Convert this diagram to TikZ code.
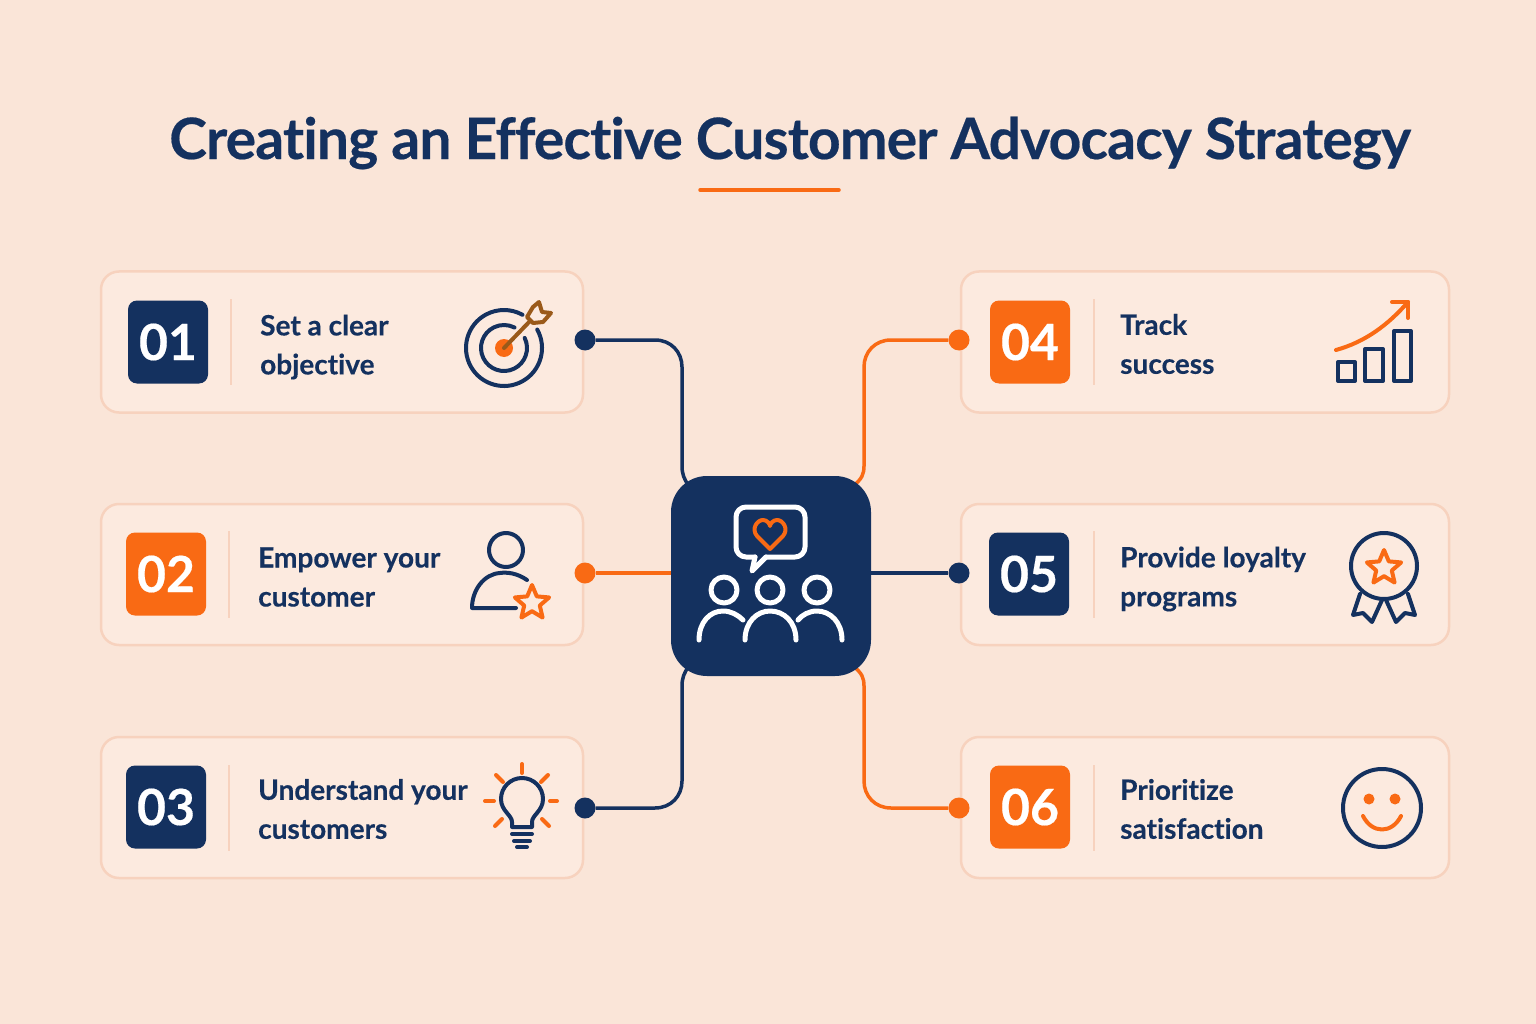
\documentclass[tikz,border=0pt]{standalone}
\usepackage{fontspec}
\setmainfont{Lato}[Ligatures=NoCommon,BoldFeatures={FakeBold=0.35}]
\usetikzlibrary{positioning,backgrounds,shapes.geometric}

\definecolor{navy}{HTML}{14315F}
\definecolor{brand}{HTML}{F96A14}
\definecolor{paper}{HTML}{FAE5D8}
\definecolor{cardfill}{HTML}{FCEADF}
\definecolor{cardline}{HTML}{F7D2BE}
\definecolor{shaft}{HTML}{9A5A1A}

\begin{document}
\begin{tikzpicture}[
    x=1pt,y=-1pt,
    card/.style={rectangle,rounded corners=18pt,draw=cardline,line width=2.5pt,fill=cardfill,minimum height=141pt,inner sep=0pt},
    badge/.style={rectangle,rounded corners=9pt,minimum width=80pt,minimum height=83pt,inner sep=0pt,text=white,font=\fontsize{50}{50}\selectfont\bfseries},
    navybadge/.style={badge,fill=navy},
    orangebadge/.style={badge,fill=brand},
    label/.style={anchor=west,align=left,text=navy,inner sep=0pt,font=\fontsize{28}{39}\selectfont\bfseries},
    rule/.style={cardline,line width=2.5pt},
    dot/.style={circle,minimum size=21pt,inner sep=0pt},
    navylink/.style={navy,line width=3.5pt},
    orangelink/.style={brand,line width=3.5pt},
    navyicon/.style={navy,line width=4pt,line cap=round,line join=round},
    orangeicon/.style={brand,line width=4pt,line cap=round,line join=round},
    whiteicon/.style={white,line width=5pt,line cap=round,line join=round},
    iconstar/.style={star,star points=5,star point ratio=2.2,draw=brand,line width=4pt,line join=round,inner sep=0pt}
]

\useasboundingbox (0,0) rectangle (1536,1024);

% Title
\node[text=navy,inner sep=0pt,font=\fontsize{57}{57}\selectfont\bfseries\addfontfeature{LetterSpace=-1.5}] (title) at (790,143) {Creating an Effective Customer Advocacy Strategy};
\draw[brand,line width=3.5pt,line cap=round] (700,190) -- (839,190);

% Center
\node[rectangle,rounded corners=36pt,fill=navy,minimum width=200pt,minimum height=200pt,inner sep=0pt] (hub) at (771,576) {};

% Cards
\begin{scope}[on background layer]
\fill[paper] (0,0) rectangle (1536,1024);
\node[card,minimum width=482pt] (card1) at (342,342) {};
\node[card,minimum width=482pt] (card2) at (342,574.5) {};
\node[card,minimum width=482pt] (card3) at (342,807.5) {};
\node[card,minimum width=488pt] (card4) at (1205,342) {};
\node[card,minimum width=488pt] (card5) at (1205,574.5) {};
\node[card,minimum width=488pt] (card6) at (1205,807.5) {};
\end{scope}

% Badges
\node[navybadge] (num1) at (168,342) {01};
\node[orangebadge] (num2) at (166,574) {02};
\node[navybadge] (num3) at (166,807) {03};
\node[orangebadge] (num4) at (1030,342) {04};
\node[navybadge] (num5) at (1029,574) {05};
\node[orangebadge] (num6) at (1030,807) {06};

% Dividers
\draw[rule] (231,299) -- (231,385);
\draw[rule] (229,531) -- (229,618);
\draw[rule] (229,765) -- (229,851);
\draw[rule] (1094,299) -- (1094,385);
\draw[rule] (1094,531) -- (1094,618);
\draw[rule] (1094,765) -- (1094,851);

% Labels
\node[label] (text1) at (260,347) {Set a clear\\objective};
\node[label] (text2) at (258,577) {Empower your\\customer};
\node[label] (text3) at (258,809) {Understand your\\customers};
\node[label] (text4) at (1120,344) {Track\\success};
\node[label] (text5) at (1120,579) {Provide loyalty\\programs};
\node[label] (text6) at (1120,809) {Prioritize\\satisfaction};

% Dots
\node[dot,fill=navy] (dot1) at (585,340) {};
\node[dot,fill=brand] (dot2) at (585,573) {};
\node[dot,fill=navy] (dot3) at (585,808) {};
\node[dot,fill=brand] (dot4) at (959,340) {};
\node[dot,fill=navy] (dot5) at (959,573) {};
\node[dot,fill=brand] (dot6) at (959,808) {};

% Connectors
\begin{scope}[on background layer]
\draw[navylink] (dot1) -- (655,340) .. controls (671,340) and (682,352) .. (682,367) -- (682,466) .. controls (682,474) and (684,479) .. ([shift={(18,10)}]hub.north west);
\draw[orangelink] (dot2) -- (dot2 -| hub.west);
\draw[navylink] (dot3) -- (655,808) .. controls (671,808) and (682,796) .. (682,781) -- (682,686) .. controls (682,678) and (684,673) .. ([shift={(18,-10)}]hub.south west);
\draw[orangelink] (dot4) -- (891,340) .. controls (875,340) and (864,352) .. (864,367) -- (864,466) .. controls (864,474) and (862,479) .. ([shift={(-18,10)}]hub.north east);
\draw[navylink] (dot5) -- (dot5 -| hub.east);
\draw[orangelink] (dot6) -- (891,808) .. controls (875,808) and (864,796) .. (864,781) -- (864,686) .. controls (864,678) and (862,673) .. ([shift={(-18,-10)}]hub.south east);
\end{scope}

% Target icon
\draw[navyicon] (504,348) ++(-29:38) arc[start angle=-29,end angle=299,radius=38];
\draw[navyicon] (504,348) ++(-26:23) arc[start angle=-26,end angle=297,radius=23];
\fill[brand] (504,348) circle[radius=9];
\draw[shaft,line width=4pt,line cap=round] (504,348) -- (532,319);
\draw[shaft,line width=4pt,line join=round,fill=cardfill] (527,317) -- (533,307) -- (539,302) -- (542,312) -- (551,313) -- (543,322) -- (533,323) -- cycle;

% Person icon
\draw[navyicon] (506,550) circle[radius=17];
\draw[navyicon] (527,580) .. controls (517,573) and (507,572) .. (500,573) .. controls (484,574) and (472,590) .. (472,608) -- (516,608);
\node[iconstar,minimum size=36pt] (star1) at (532,603) {};

% Bulb icon
\draw[navyicon] (512,827) -- (512,822) .. controls (512,815) and (501,811) .. (501,799) arc[start angle=180,end angle=360,radius=21] .. controls (543,811) and (532,815) .. (532,822) -- (532,827) -- cycle;
\draw[navyicon] (512,834) -- (532,834);
\draw[navyicon] (514,841) -- (530,841);
\draw[navyicon] (517,847) -- (527,847);
\draw[orangeicon] (522,764) -- (522,773);
\draw[orangeicon] (541,782) -- (548,775);
\draw[orangeicon] (550,801) -- (557,801);
\draw[orangeicon] (542,819) -- (549,826);
\draw[orangeicon] (502,819) -- (495,826);
\draw[orangeicon] (485,801) -- (494,801);
\draw[orangeicon] (503,782) -- (496,775);

% Chart icon
\draw[navyicon] (1338,362) rectangle (1355,381);
\draw[navyicon] (1365,349) rectangle (1383,381);
\draw[navyicon] (1394,331) rectangle (1411,381);
\draw[orangeicon] (1336,350) .. controls (1365,342) and (1388,325) .. (1408,302);
\draw[orangeicon] (1392,302) -- (1408,302) -- (1408,318);

% Ribbon icon
\draw[navyicon] (1384,566) circle[radius=33];
\node[iconstar,minimum size=36pt] (star2) at (1384,568) {};
\draw[navyicon] (1360,594) -- (1353,615) -- (1363,613) -- (1372,622) -- (1382,600);
\draw[navyicon] (1408,594) -- (1415,615) -- (1405,613) -- (1396,622) -- (1386,600);

% Smile icon
\draw[navyicon] (1382,808) circle[radius=39];
\fill[brand] (1369,799) circle[radius=5.5];
\fill[brand] (1395,799) circle[radius=5.5];
\draw[orangeicon] (1363,816) .. controls (1372,834) and (1392,834) .. (1401,816);

% Hub icon
\draw[whiteicon,rounded corners=10pt] (755,557) -- (736,557) -- (736,507) -- (805,507) -- (805,557) -- (766,557);
\draw[whiteicon] (755,557) -- (752,571) -- (766,557);
\draw[orangeicon] (770,549) -- (757,536) .. controls (751,529) and (757,520) .. (763,520) .. controls (767,520) and (770,524) .. (770,526) .. controls (770,524) and (773,520) .. (777,520) .. controls (783,520) and (789,529) .. (783,536) -- cycle;
\draw[whiteicon] (724,590) circle[radius=13];
\draw[whiteicon] (770,590) circle[radius=13];
\draw[whiteicon] (817,590) circle[radius=13];
\draw[whiteicon] (699,640) .. controls (699,622) and (710,611) .. (723,611) .. controls (731,611) and (738,615) .. (743,620);
\draw[whiteicon] (745,640) .. controls (745,622) and (757,611) .. (770,611) .. controls (784,611) and (796,622) .. (796,640);
\draw[whiteicon] (842,640) .. controls (842,622) and (830,611) .. (817,611) .. controls (809,611) and (802,615) .. (798,620);

\end{tikzpicture}
\end{document}
